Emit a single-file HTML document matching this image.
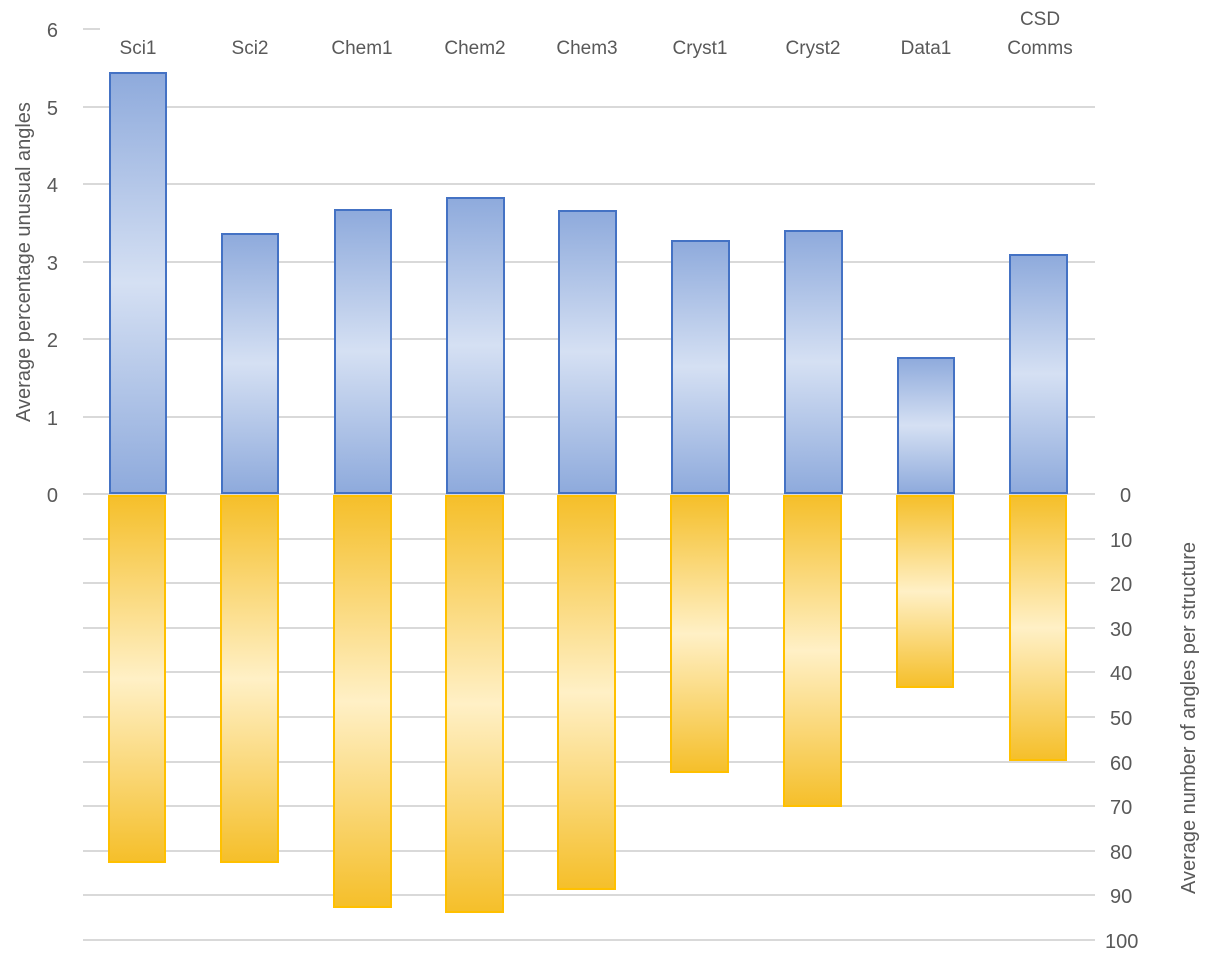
<!DOCTYPE html>
<html><head><meta charset="utf-8"><style>body{margin:0;background:#fff}svg{display:block}</style></head><body>
<svg width="1214" height="959" xmlns="http://www.w3.org/2000/svg" font-family="Liberation Sans, sans-serif" fill="#595959">
<defs>
<linearGradient id="b" x1="0" y1="0" x2="0" y2="1"><stop offset="0" stop-color="#8eaadc"/><stop offset="0.5" stop-color="#d5e0f3"/><stop offset="1" stop-color="#8eaadc"/></linearGradient>
<linearGradient id="o" x1="0" y1="0" x2="0" y2="1"><stop offset="0" stop-color="#f5bf2a"/><stop offset="0.5" stop-color="#fff0c6"/><stop offset="1" stop-color="#f5bf2a"/></linearGradient>
</defs>
<g stroke="#d9d9d9" stroke-width="2">
<line x1="83" x2="100" y1="29" y2="29"/>
<line x1="83" x2="1095" y1="107" y2="107"/>
<line x1="83" x2="1095" y1="184" y2="184"/>
<line x1="83" x2="1095" y1="262" y2="262"/>
<line x1="83" x2="1095" y1="339" y2="339"/>
<line x1="83" x2="1095" y1="417" y2="417"/>
<line x1="83" x2="1095" y1="494" y2="494"/>
<line x1="83" x2="1095" y1="539" y2="539"/>
<line x1="83" x2="1095" y1="583" y2="583"/>
<line x1="83" x2="1095" y1="628" y2="628"/>
<line x1="83" x2="1095" y1="672" y2="672"/>
<line x1="83" x2="1095" y1="717" y2="717"/>
<line x1="83" x2="1095" y1="762" y2="762"/>
<line x1="83" x2="1095" y1="806" y2="806"/>
<line x1="83" x2="1095" y1="851" y2="851"/>
<line x1="83" x2="1095" y1="895" y2="895"/>
<line x1="83" x2="1095" y1="940" y2="940"/>
</g>
<g fill="url(#b)" stroke="#4472c4" stroke-width="2">
<rect x="110" y="73" width="56" height="420"/>
<rect x="222" y="234" width="56" height="259"/>
<rect x="335" y="210" width="56" height="283"/>
<rect x="447" y="198" width="57" height="295"/>
<rect x="559" y="211" width="57" height="282"/>
<rect x="672" y="241" width="57" height="252"/>
<rect x="785" y="231" width="57" height="262"/>
<rect x="898" y="358" width="56" height="135"/>
<rect x="1010" y="255" width="57" height="238"/>
</g>
<g fill="url(#o)" stroke="#ffc000" stroke-width="2">
<rect x="109" y="496" width="56" height="366"/>
<rect x="221" y="496" width="57" height="366"/>
<rect x="334" y="496" width="57" height="411"/>
<rect x="446" y="496" width="57" height="416"/>
<rect x="558" y="496" width="57" height="393"/>
<rect x="671" y="496" width="57" height="276"/>
<rect x="784" y="496" width="57" height="310"/>
<rect x="897" y="496" width="56" height="191"/>
<rect x="1010" y="496" width="56" height="264"/>
</g>
<g font-size="20" text-anchor="end">
<text x="58" y="37">6</text><text x="58" y="115">5</text><text x="58" y="192">4</text><text x="58" y="270">3</text><text x="58" y="347">2</text><text x="58" y="425">1</text><text x="58" y="502">0</text>
</g>
<g font-size="20" text-anchor="start">
<text x="1120" y="502">0</text><text x="1110" y="547">10</text><text x="1110" y="591">20</text><text x="1110" y="636">30</text><text x="1110" y="680">40</text><text x="1110" y="725">50</text><text x="1110" y="770">60</text><text x="1110" y="814">70</text><text x="1110" y="859">80</text><text x="1110" y="903">90</text><text x="1105" y="948">100</text>
</g>
<g font-size="19" text-anchor="middle">
<text x="138" y="54">Sci1</text><text x="250" y="54">Sci2</text><text x="362" y="54">Chem1</text><text x="475" y="54">Chem2</text><text x="587" y="54">Chem3</text><text x="700" y="54">Cryst1</text><text x="813" y="54">Cryst2</text><text x="926" y="54">Data1</text><text x="1040" y="25">CSD</text><text x="1040" y="54">Comms</text>
</g>
<text font-size="20" text-anchor="middle" transform="translate(30,262) rotate(-90)">Average percentage unusual angles</text>
<text font-size="20" text-anchor="middle" transform="translate(1195,718) rotate(-90)">Average number of angles per structure</text>
</svg>
</body></html>
